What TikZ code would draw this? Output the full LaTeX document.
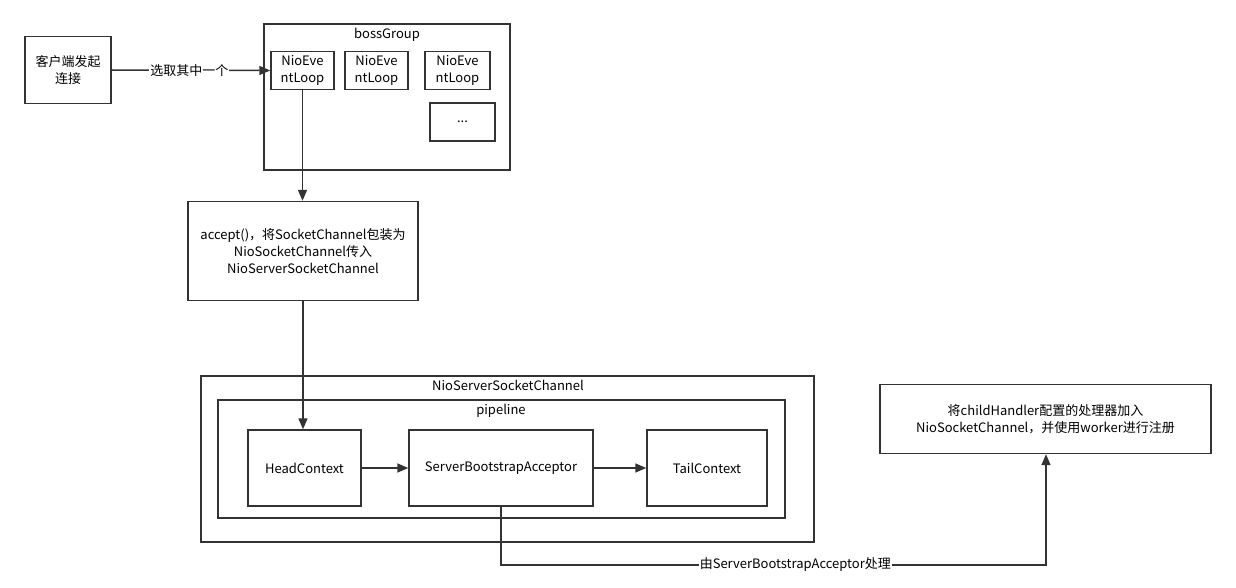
\documentclass[tikz,border=0pt]{standalone}
\usepackage{fontspec}
\setmainfont{Noto Sans CJK SC}
\usetikzlibrary{arrows.meta}
\begin{document}
\begin{tikzpicture}[x=1pt,y=-1pt,
  font=\fontsize{13}{17}\selectfont,
  box/.style={draw=black!80,line width=1.4pt,fill=white,inner sep=0pt,align=center},
  lbl/.style={inner sep=0pt,anchor=center},
  conn/.style={draw=black!80,line width=1.5pt},
  arr/.style={conn,-{Triangle[length=11pt,width=9pt]}}]
\useasboundingbox (0,0) rectangle (1236,588);
% containers
\node[box,minimum width=246pt,minimum height=146pt] (boss) at (387,97) {};
\node[lbl] (bossl) at (387,35) {bossGroup};
\node[box,minimum width=613pt,minimum height=166pt] (nssc) at (507.5,459) {};
\node[lbl] (nsscl) at (508,385) {NioServerSocketChannel};
\node[box,minimum width=567pt,minimum height=118pt] (pipe) at (501.5,459) {};
\node[lbl] (pipel) at (501,411) {pipeline};
% nodes
\node[box,minimum width=86pt,minimum height=67pt] (client) at (68,70) {客户端发起\\连接};
\node[box,minimum width=63pt,minimum height=38pt] (nel1) at (302.5,70.5) {NioEve\\ntLoop};
\node[box,minimum width=63pt,minimum height=38pt] (nel2) at (376.5,70.5) {NioEve\\ntLoop};
\node[box,minimum width=65pt,minimum height=38pt] (nel3) at (457.5,70.5) {NioEve\\ntLoop};
\node[box,minimum width=65pt,minimum height=38pt] (dots) at (462.5,122) {...};
\node[box,minimum width=230pt,minimum height=99pt] (acc) at (303,251) {accept()，将SocketChannel包装为\\NioSocketChannel传入\\NioServerSocketChannel};
\node[box,minimum width=113pt,minimum height=76pt] (head) at (304.5,468) {HeadContext};
\node[box,minimum width=184pt,minimum height=76pt] (sba) at (501,468) {ServerBootstrapAcceptor};
\node[box,minimum width=120pt,minimum height=76pt] (tail) at (707,468) {TailContext};
\node[box,minimum width=331pt,minimum height=69pt] (reg) at (1045.5,419) {将childHandler配置的处理器加入\\NioSocketChannel，并使用worker进行注册};
% connectors
\draw[arr] (client.east) -- node[fill=white,inner sep=1pt,pos=0.49]{选取其中一个} (nel1.west);
\draw[arr] (nel1.south) -- (acc.north -| nel1.south);
\draw[arr] (acc.south) -- (head.north -| acc.south);
\draw[arr] (head.east) -- (sba.west);
\draw[arr] (sba.east) -- (tail.west);
\coordinate (c1) at (501,565);
\coordinate (c2) at (1046,565);
\draw[arr] (sba.south) -- (c1) -- node[fill=white,inner sep=1pt,pos=0.54]{由ServerBootstrapAcceptor处理} (c2) -- (reg.south -| c2);
\end{tikzpicture}
\end{document}
